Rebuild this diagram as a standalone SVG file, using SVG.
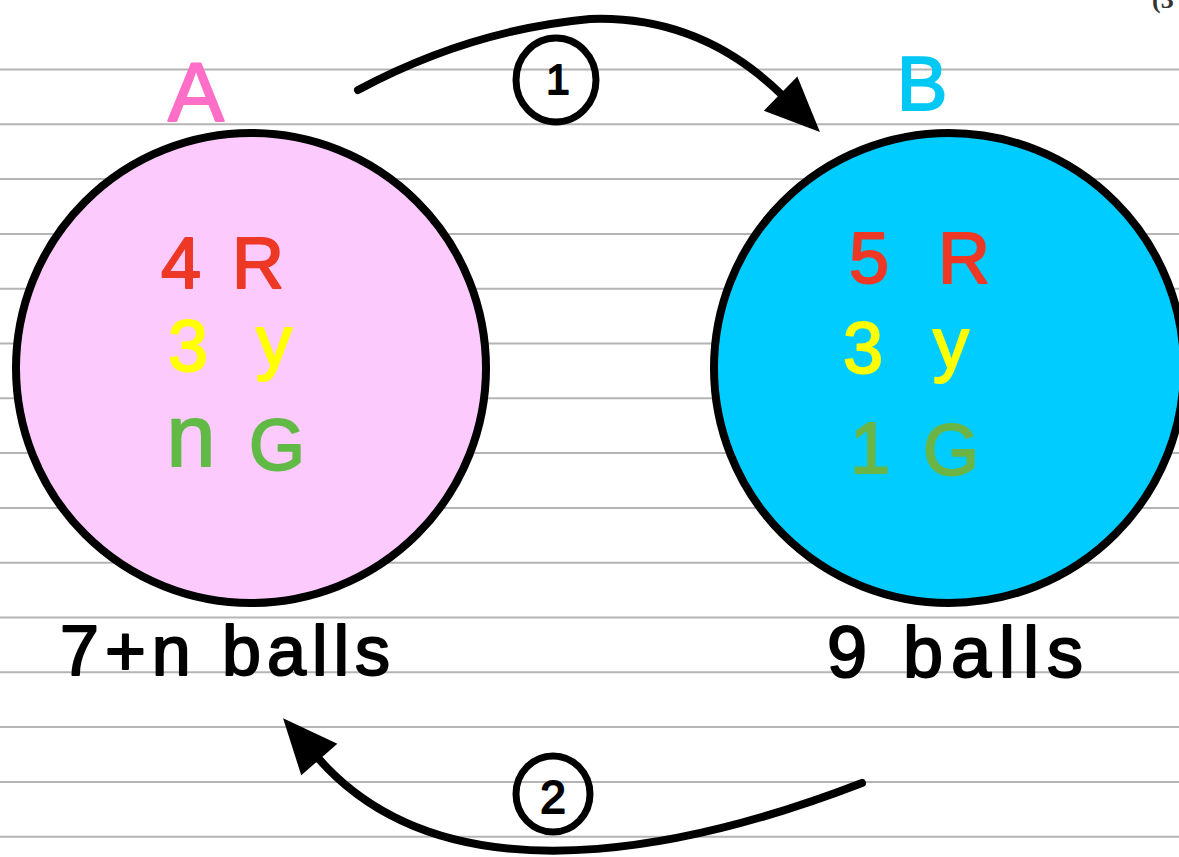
<svg xmlns="http://www.w3.org/2000/svg" width="1179" height="857" viewBox="0 0 1179 857">
<style>
.rule{stroke:#b4b4b4;stroke-width:2}
.ball{stroke:#000;stroke-width:8}
.hw{font-family:"Liberation Sans","DejaVu Sans",sans-serif;text-anchor:middle;stroke-linejoin:round;stroke-width:2}
.red{fill:#ee3826;stroke:#ee3826;font-size:72px}
.yel{fill:#ffff00;stroke:#ffff00;font-size:72px}
.grn{fill:#62ba46;stroke:#62ba46;font-size:72px}
.blk{fill:#000;stroke:#000}
.conn{fill:none;stroke:#000;stroke-width:8;stroke-linecap:round}
.tag{fill:none;stroke:#000;stroke-width:7}
</style>
<defs>
<marker id="head" markerUnits="userSpaceOnUse" markerWidth="60" markerHeight="50" refX="2" refY="24" orient="auto" overflow="visible">
<path d="M0,0 L55,24 L0,48 Z" fill="#000"/>
</marker>
</defs>
<rect width="1179" height="857" fill="#fff"/>
<g id="ruled-lines">
<line class="rule" x1="0" y1="69.5" x2="1179" y2="69.5"/>
<line class="rule" x1="0" y1="124.3" x2="1179" y2="124.3"/>
<line class="rule" x1="0" y1="179.1" x2="1179" y2="179.1"/>
<line class="rule" x1="0" y1="233.9" x2="1179" y2="233.9"/>
<line class="rule" x1="0" y1="288.7" x2="1179" y2="288.7"/>
<line class="rule" x1="0" y1="343.5" x2="1179" y2="343.5"/>
<line class="rule" x1="0" y1="398.3" x2="1179" y2="398.3"/>
<line class="rule" x1="0" y1="453.1" x2="1179" y2="453.1"/>
<line class="rule" x1="0" y1="507.9" x2="1179" y2="507.9"/>
<line class="rule" x1="0" y1="562.7" x2="1179" y2="562.7"/>
<line class="rule" x1="0" y1="617.5" x2="1179" y2="617.5"/>
<line class="rule" x1="0" y1="672.3" x2="1179" y2="672.3"/>
<line class="rule" x1="0" y1="727.1" x2="1179" y2="727.1"/>
<line class="rule" x1="0" y1="781.9" x2="1179" y2="781.9"/>
<line class="rule" x1="0" y1="836.7" x2="1179" y2="836.7"/>
</g>
<text x="1152" y="8" font-family="Liberation Serif,serif" font-size="26" font-weight="bold" fill="#333">(3</text>
<g id="nodeA">
<circle class="ball" cx="251" cy="368" r="235" fill="#fdcafd"/>
<text class="hw" x="196" y="121" font-size="84" fill="#ff6ec7" stroke="#ff6ec7">A</text>
<text class="hw red" x="181" y="288">4</text>
<text class="hw red" x="258" y="288">R</text>
<text class="hw yel" x="188" y="371">3</text>
<text class="hw yel" x="274" y="366">y</text>
<text class="hw grn" x="191" y="466" style="font-size:88px">n</text>
<text class="hw grn" x="277" y="470">G</text>
<text class="hw blk" x="60" y="675" font-size="70" style="text-anchor:start" textLength="330" lengthAdjust="spacing">7+n balls</text>
</g>
<g id="nodeB">
<circle class="ball" cx="949" cy="368" r="235" fill="#00ccff"/>
<text class="hw" x="922" y="110" font-size="76" fill="#00c8f5" stroke="#00c8f5">B</text>
<text class="hw red" x="869" y="283">5</text>
<text class="hw red" x="964" y="283">R</text>
<text class="hw yel" x="863" y="373">3</text>
<text class="hw yel" x="951" y="368">y</text>
<text class="hw grn" x="870" y="473" style="fill:#6ab545;stroke:#6ab545">1</text>
<text class="hw grn" x="951" y="475" style="fill:#6ab545;stroke:#6ab545">G</text>
<text class="hw blk" x="827" y="677" font-size="72" style="text-anchor:start" textLength="256" lengthAdjust="spacing">9 balls</text>
</g>
<g id="connectors">
<path class="conn" d="M358,90 Q470,30 590,19 Q700,15 782,95" marker-end="url(#head)"/>
<path class="conn" d="M862,783 C740,830 460,920 318,758" marker-end="url(#head)"/>
</g>
<g id="label1">
<ellipse class="tag" cx="556" cy="80" rx="40" ry="42"/>
<text class="hw blk" x="558" y="94" font-size="42" stroke-width="3">1</text>
</g>
<g id="label2">
<ellipse class="tag" cx="553" cy="794" rx="37" ry="38"/>
<text class="hw blk" x="553" y="813" font-size="46" stroke-width="3">2</text>
</g>
</svg>
